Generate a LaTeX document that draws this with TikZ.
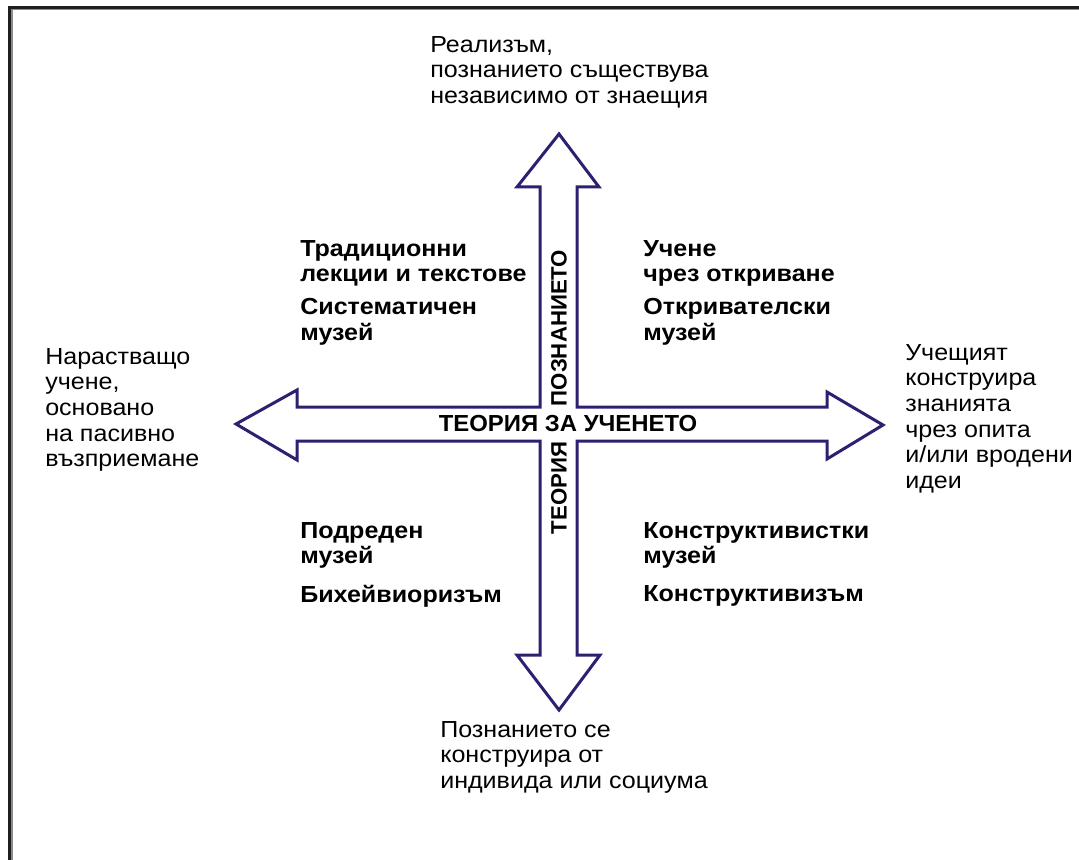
\documentclass[tikz,border=0pt]{standalone}
\usepackage{fontspec}
\setmainfont{Liberation Sans}
\newfontfamily\widesans[FakeStretch=1.08]{Liberation Sans}
\newfontfamily\axissans[FakeStretch=1.03]{Liberation Sans}
\definecolor{arrowblue}{HTML}{2B2170}
\tikzset{
    sidetext/.style={font=\widesans\fontsize{16.5}{18.2}\selectfont,align=left,
        anchor=north west,inner sep=0pt},
    quadtext/.style={sidetext,font=\widesans\fontsize{16.5}{18.2}\selectfont\bfseries},
    axistext/.style={font=\axissans\fontsize{16.5}{18}\selectfont\bfseries,inner sep=0pt},
    uptext/.style={font=\fontsize{15.8}{18}\selectfont\bfseries,inner sep=0pt,rotate=90}
}
\begin{document}
\begin{tikzpicture}[x=0.025cm,y=-0.025cm]
    \useasboundingbox (0,0) rectangle (1079,860);
    % frame (only left and top edges are in the picture)
    \draw[black!45,line width=0.05cm] (11.5,860) -- (11.5,9.5) -- (1079,9.5);
    \draw[black!88,line width=0.07cm] (9.5,860) -- (9.5,7.5) -- (1079,7.5);

    % cross with four arrow heads
    \draw[arrowblue,line width=0.075cm,line join=miter,fill=white]
        (559,134) -- (599,187) -- (577,187) -- (577,407)
        -- (827,407) -- (827,392) -- (883,425) -- (827,459)
        -- (827,441) -- (577,441)
        -- (577,655) -- (600,655) -- (559,710) -- (517,655)
        -- (540,655) -- (540,441)
        -- (297,441) -- (297,460) -- (236,424) -- (297,390)
        -- (297,407) -- (540,407) -- (540,187) -- (517,187)
        -- cycle;

    \node[axistext] (learning-theory) at (568,424) {ТЕОРИЯ ЗА УЧЕНЕТО};
    \node[uptext] (knowledge-axis) at (559,328) {ПОЗНАНИЕТО};
    \node[uptext] (theory-axis) at (559,488) {ТЕОРИЯ};

    % ends of the axes
    \node[sidetext] (realism-label) at (430,36)
        {Реализъм,\\познанието съществува\\независимо от знаещия};
    \node[sidetext] (passive-label) at (45,348)
        {Нарастващо\\учене,\\основано\\на пасивно\\възприемане};
    \node[sidetext] (learner-label) at (905,344)
        {Учещият\\конструира\\знанията\\чрез опита\\и/или вродени\\идеи};
    \node[sidetext] (constructed-label) at (440,721)
        {Познанието се\\конструира от\\индивида или социума};

    % quadrants
    \node[quadtext] (lectures-label) at (300,240)
        {Традиционни\\лекции и текстове};
    \node[quadtext] (systematic-label) at (300,298)
        {Систематичен\\музей};
    \node[quadtext] (discovery-label) at (643,240)
        {Учене\\чрез откриване};
    \node[quadtext] (discovery-museum-label) at (643,298)
        {Откривателски\\музей};
    \node[quadtext] (ordered-label) at (300,522)
        {Подреден\\музей};
    \node[quadtext] (behaviourism-label) at (300,585)
        {Бихейвиоризъм};
    \node[quadtext] (constructivist-label) at (643,522)
        {Конструктивистки\\музей};
    \node[quadtext] (constructivism-label) at (643,585)
        {Конструктивизъм};
\end{tikzpicture}
\end{document}
